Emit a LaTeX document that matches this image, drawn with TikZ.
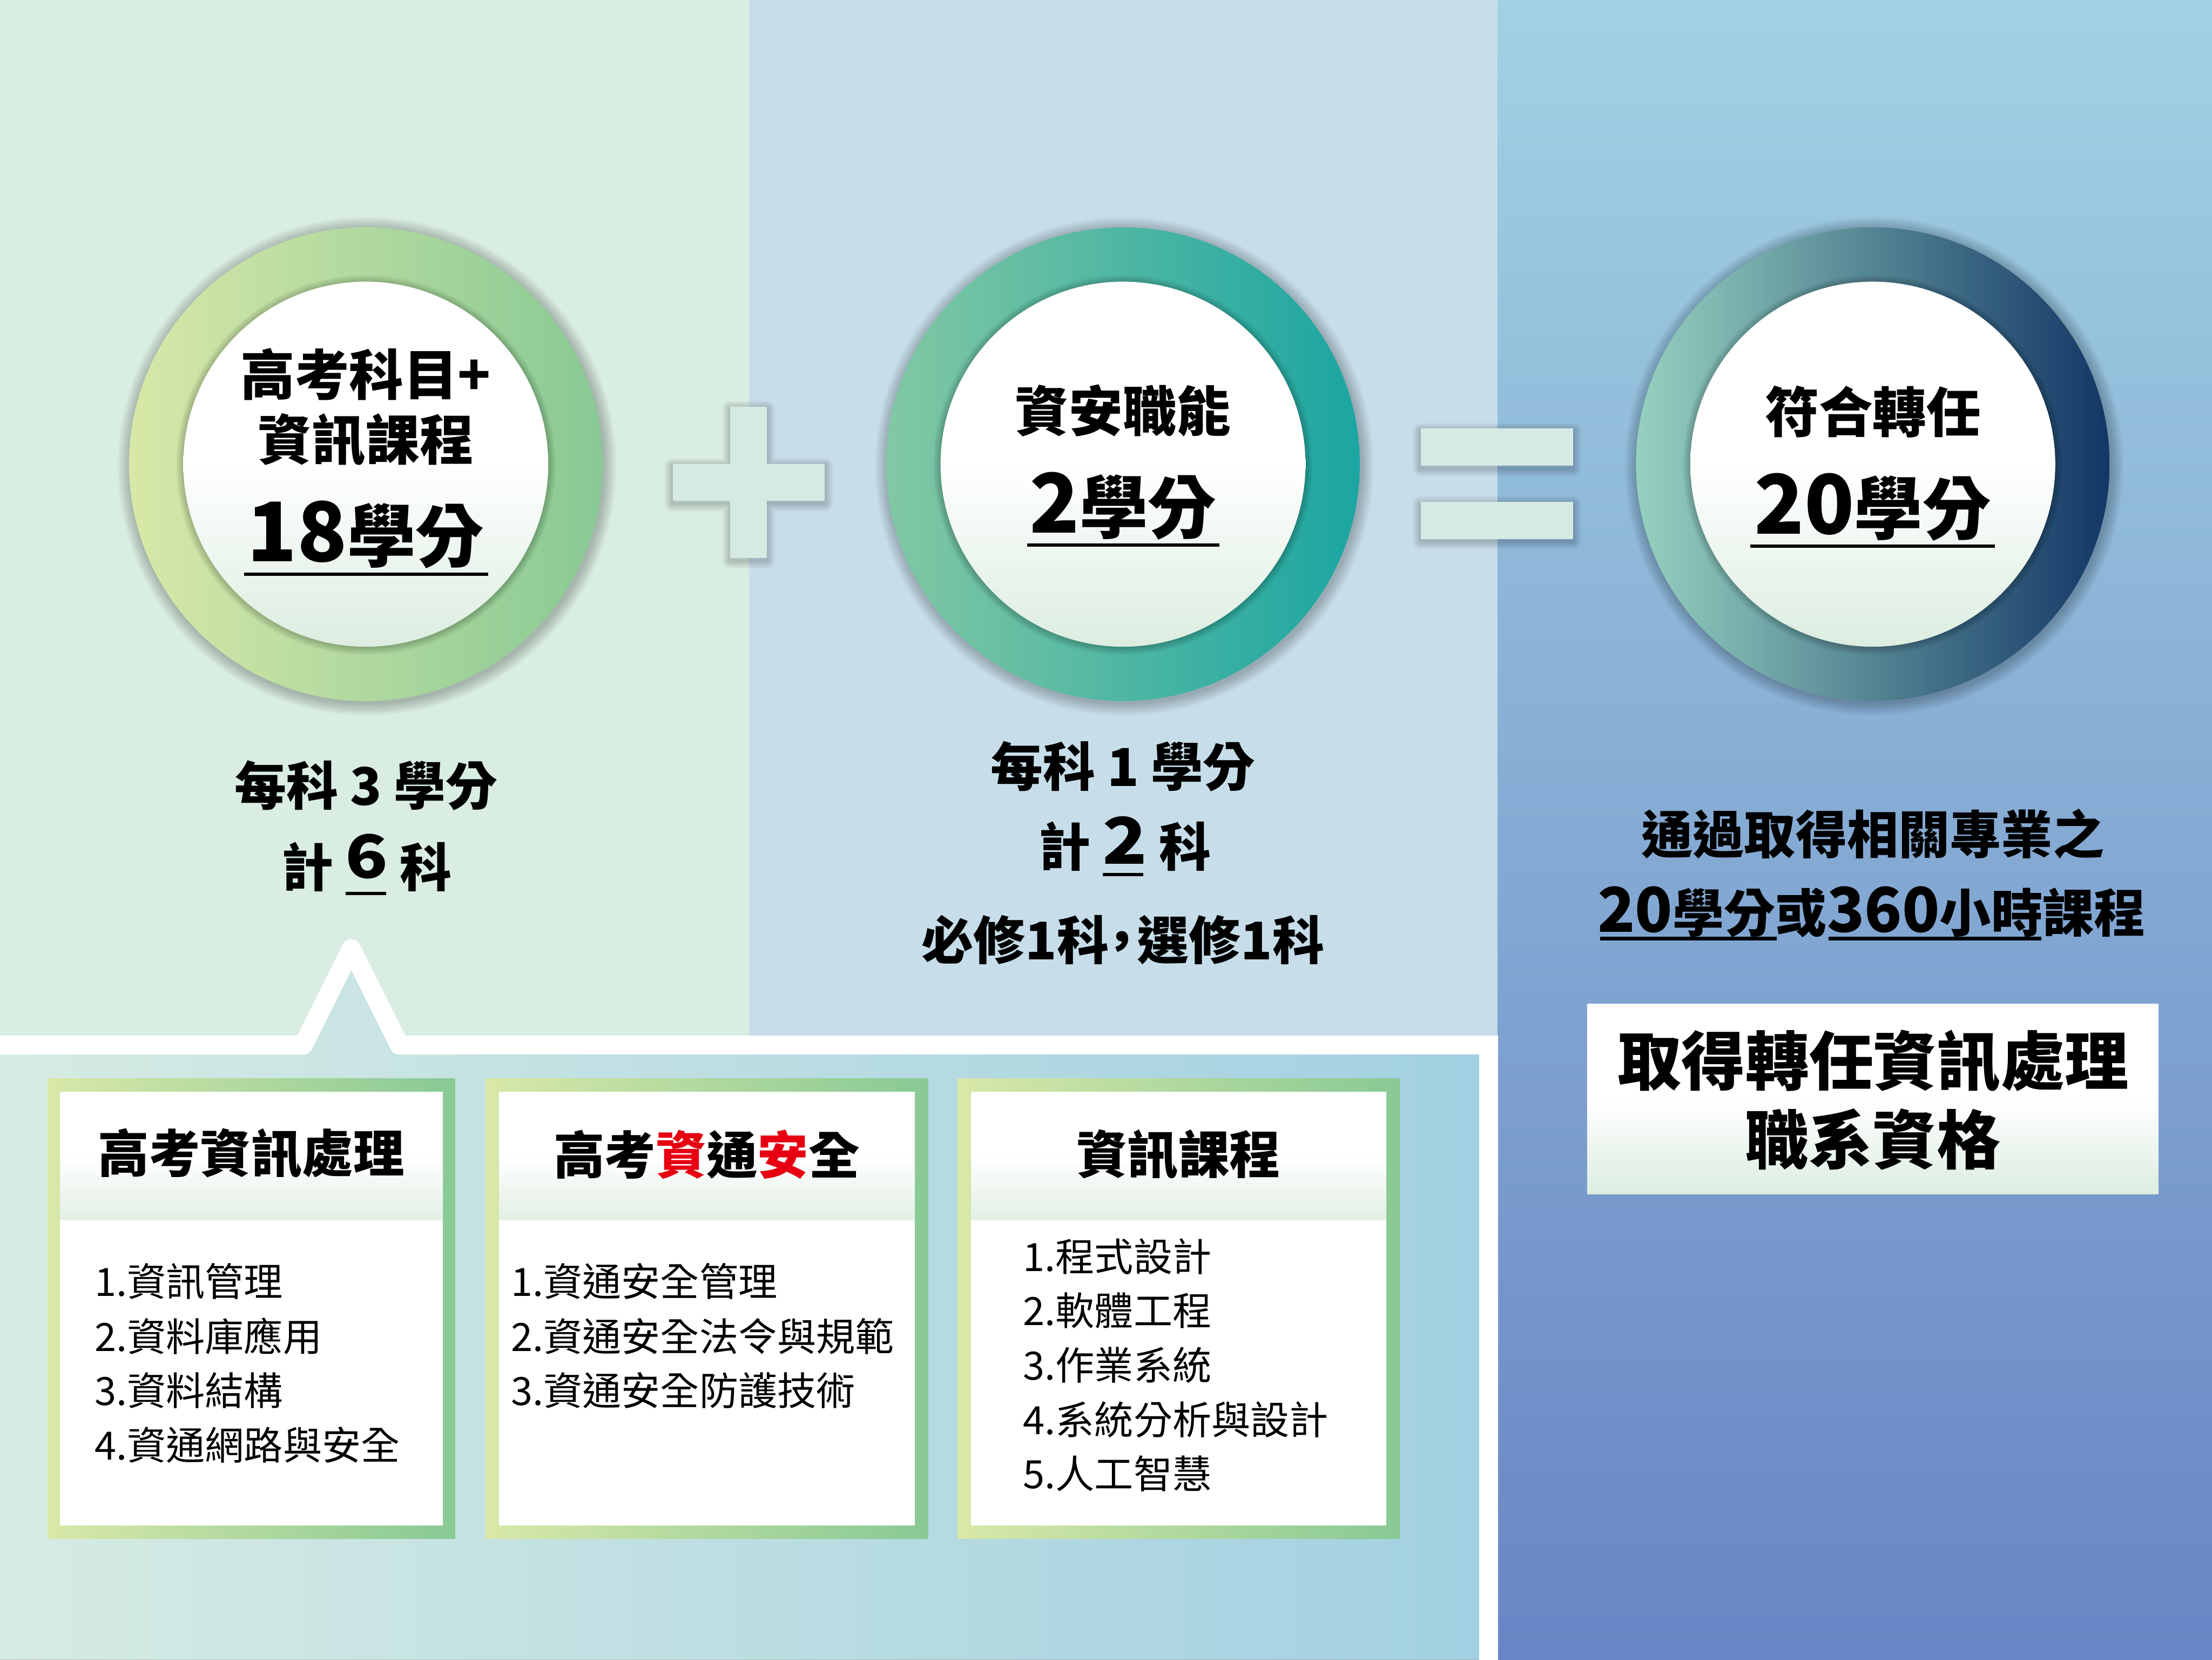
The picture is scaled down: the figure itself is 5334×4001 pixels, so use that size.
\documentclass[tikz,border=0pt]{standalone}
\usepackage{fontspec}
\usepackage{graphicx}
\newfontfamily\cjk{Noto Sans CJK TC}
\newcommand\fs[1]{\fontsize{#1pt}{#1pt}\selectfont}
\definecolor{bgL}{HTML}{D9EDE2}
\definecolor{bgM}{HTML}{C7DEEA}
\definecolor{bgRt}{HTML}{A2D1E3}
\definecolor{bgRb}{HTML}{6885C5}
\definecolor{pnL}{HTML}{D6EBE3}
\definecolor{pnR}{HTML}{A2D0E2}
\definecolor{r1L}{HTML}{D8E8A8}
\definecolor{r1R}{HTML}{88C994}
\definecolor{r2L}{HTML}{82C8A4}
\definecolor{r2R}{HTML}{1BA5A2}
\definecolor{r3L}{HTML}{95D1C0}
\definecolor{r3R}{HTML}{133766}
\definecolor{mint}{HTML}{DCEDE0}
\definecolor{hdr}{HTML}{E2EFE4}
\definecolor{sym}{HTML}{D5EAE3}
\definecolor{redt}{HTML}{E60012}
\usetikzlibrary{calc}
\tikzset{
  ringc/.style={circle, inner sep=0pt, minimum size=1142pt},
  discc/.style={circle, inner sep=0pt, minimum size=880pt, top color=white, bottom color=mint, middle color=white},
  tb/.style={inner sep=0pt, text=black},
  uline/.style={line width=8pt, black},
  framebox/.style={inner sep=0pt, left color=r1L, right color=r1R},
  li/.style={inner sep=0pt, anchor=west, text=black, font=\cjk\fs{94}},
  hd/.style={inner sep=0pt, text=black, font=\cjk\bfseries\fs{123}},
}
\begin{document}
\begin{tikzpicture}[x=1pt,y=-1pt]
\useasboundingbox (0,0) rectangle (5334,4001);
% column backgrounds
\fill[bgL] (0,0) rectangle (1806,4001);
\fill[bgM] (1806,0) rectangle (3611,4001);
\fill[top color=bgRt, bottom color=bgRb] (3611,0) rectangle (5334,4001);
% lower panel with white border and peak
\fill[left color=pnL, right color=pnR] (0,2519.5) -- (731,2519.5) -- (847,2287) -- (963,2519.5) -- (3590,2519.5) -- (3590,4001) -- (0,4001) -- cycle;
\draw[white, line width=46pt, line join=round] (-40,2519.5) -- (731,2519.5) -- (847,2287) -- (963,2519.5) -- (1100,2519.5);
\draw[white, line width=46pt, line join=miter] (1050,2519.5) -- (3590,2519.5) -- (3590,4060);
% circles
\foreach \n/\cx/\cl/\cr in {1/882/r1L/r1R, 2/2708/r2L/r2R, 3/4516/r3L/r3R}{
  \foreach \k in {3,6,...,30}{\fill[black,opacity=0.022] (\cx+3,1124) circle[radius=571pt+\k pt];}
  \node[ringc, left color=\cl, right color=\cr] (c\n) at (\cx,1119) {};
  \foreach \k in {2,4,...,18}{\fill[black,opacity=0.025] (\cx,1121) circle[radius=440pt+\k pt];}
  \node[discc] (d\n) at (\cx,1119) {};
}
% plus and equals with soft shadows
\foreach \k in {4,8,...,40}{
  \draw[black, opacity=0.02, line width=\k pt, line join=round] (1761,986) rectangle (1849,1351) (1622,1124) rectangle (1989,1213);
  \draw[black, opacity=0.02, line width=\k pt, line join=round] (3426,1039) rectangle (3793,1129) (3426,1216) rectangle (3793,1305);
}
\fill[sym] (1761,980) rectangle (1849,1345);
\fill[sym] (1622,1118) rectangle (1989,1207);
\fill[sym] (3426,1033) rectangle (3793,1123);
\fill[sym] (3426,1210) rectangle (3793,1299);
% circle texts
\node[tb, font={\cjk\bfseries\fs{131}}] (t11) at (882,902) {高考科目+};
\node[tb, font={\cjk\bfseries\fs{130}}] (t12) at (882,1060) {資訊課程};
\node[tb, font={\cjk\bfseries\fs{165}}] (t13) at (882,1289) {\scalebox{1.2}{18}學分};
\draw[uline] (588,1384) -- (1177,1384);
\node[tb, font={\cjk\bfseries\fs{130}}] (t21) at (2708,990) {資安職能};
\node[tb, font={\cjk\bfseries\fs{165}}] (t22) at (2708,1220) {\scalebox{1.2}{2}學分};
\draw[uline] (2477,1314) -- (2940,1314);
\node[tb, font={\cjk\bfseries\fs{130}}] (t31) at (4516,992) {符合轉任};
\node[tb, font={\cjk\bfseries\fs{165}}] (t32) at (4516,1222) {\scalebox{1.2}{20}學分};
\draw[uline] (4220,1316) -- (4810,1316);
% texts under circles
\node[tb, font={\cjk\bfseries\fs{125}}] (u11) at (883,1894) {每科 3 學分};
\node[tb, font={\cjk\bfseries\fs{125}}] (u12) at (884,2080) {計 \raisebox{0.16em}{\scalebox{1.35}[1.15]{6}} 科};
\draw[uline] (833,2154) -- (931,2154);
\node[tb, font={\cjk\bfseries\fs{126}}] (u21) at (2708,1848) {每科 1 學分};
\node[tb, font={\cjk\bfseries\fs{125}}] (u22) at (2712,2034) {計 \raisebox{0.04em}{\scalebox{1.42}[1.24]{2}} 科};
\draw[uline] (2659,2108) -- (2757,2108);
\node[tb, font={\cjk\bfseries\fs{125}}] (u23) at (2708,2266) {必修1科\kern-0.25em，\kern-0.2em 選修1科};
\node[tb, font={\cjk\bfseries\fs{124}}] (u31) at (4516,2011) {通過取得相關專業之};
\node[tb, font={\cjk\bfseries\fs{124}}] (u32) at (4513,2198) {\scalebox{1.2}{20}學分或\scalebox{1.2}{360}小時課程};
\draw[line width=9pt, black] (3859,2263) -- (4284,2263);
\draw[line width=9pt, black] (4409,2263) -- (4923,2263);
% result box
\fill[top color=white, bottom color=mint, middle color=white] (3827,2420) rectangle (5205,2879);
\node[tb, font={\cjk\bfseries\fs{154}}] (r1) at (4517,2558) {取得轉任資訊處理};
\node[tb, font={\cjk\bfseries\fs{154}}] (r2) at (4516,2747) {職系資格};
% subject boxes
\foreach \n/\xa/\xb/\ia/\ib in {1/115/1097/145/1068, 2/1171/2238/1203/2206, 3/2309/3375/2342/3343}{
  \node[framebox, minimum width=\xb pt-\xa pt, minimum height=1109pt] (b\n) at ({(\xa+\xb)/2},3154.5) {};
  \fill[white] (\ia,2632) rectangle (\ib,3678);
  \fill[top color=white, bottom color=hdr, middle color=white] (\ia,2632) rectangle (\ib,2941);
}
\node[hd] (h1) at (606,2780) {高考資訊處理};
\node[hd] (h2) at (1704,2783) {高考{\color{redt}資}通{\color{redt}安}全};
\node[hd] (h3) at (2842,2783) {資訊課程};
\node[li] (a1) at (228,3089) {1.資訊管理};
\node[li] (a2) at (228,3221) {2.資料庫應用};
\node[li] (a3) at (228,3352) {3.資料結構};
\node[li] (a4) at (228,3484) {4.資通網路與安全};
\node[li] (s1) at (1232,3089) {1.資通安全管理};
\node[li] (s2) at (1232,3221) {2.資通安全法令與規範};
\node[li] (s3) at (1232,3352) {3.資通安全防護技術};
\node[li] (k1) at (2467,3029) {1.程式設計};
\node[li] (k2) at (2467,3160) {2.軟體工程};
\node[li] (k3) at (2467,3291) {3.作業系統};
\node[li] (k4) at (2467,3422) {4.系統分析與設計};
\node[li] (k5) at (2467,3553) {5.人工智慧};
\end{tikzpicture}
\end{document}
